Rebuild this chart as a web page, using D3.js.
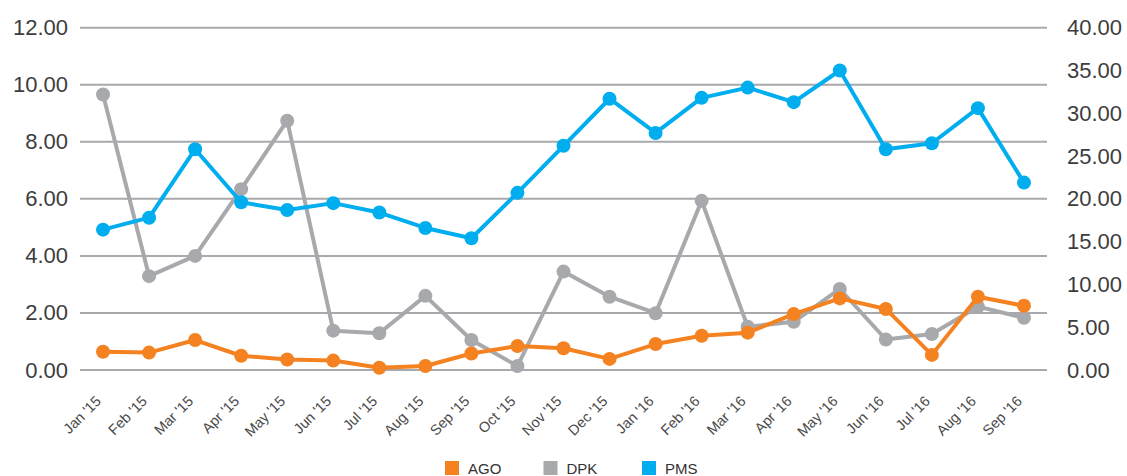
<!DOCTYPE html>
<html>
<head>
<meta charset="utf-8">
<script src="https://cdn.jsdelivr.net/npm/d3@7"></script>
<style>
  body { margin: 0; background: #fff; }
  text { font-family: "Liberation Sans", Arial, sans-serif; }
</style>
</head>
<body>
<div id="chart"></div>
<script>
// Months on the x axis
const months = ["Jan '15", "Feb '15", "Mar '15", "Apr '15", "May '15", "Jun '15", "Jul '15",
    "Aug '15", "Sep '15", "Oct '15", "Nov '15", "Dec '15", "Jan '16", "Feb '16", "Mar '16",
    "Apr '16", "May '16", "Jun '16", "Jul '16", "Aug '16", "Sep '16"];

// AGO and DPK read against the left axis
const ago = [0.64, 0.61, 1.05, 0.50, 0.37, 0.33, 0.08, 0.14, 0.58, 0.84, 0.76, 0.39, 0.91,
    1.20, 1.31, 1.96, 2.51, 2.14, 0.53, 2.57, 2.25];
const dpk = [9.66, 3.29, 4.00, 6.34, 8.74, 1.38, 1.29, 2.60, 1.05, 0.14, 3.45, 2.57, 1.99,
    5.93, 1.52, 1.69, 2.84, 1.07, 1.26, 2.22, 1.83];
// PMS read against the right axis
const pms = [16.4, 17.8, 25.8, 19.6, 18.7, 19.5, 18.4, 16.6, 15.4, 20.7, 26.2, 31.7, 27.7,
    31.8, 33.0, 31.3, 35.0, 25.8, 26.5, 30.6, 21.9];

const leftTicks = [0, 2, 4, 6, 8, 10, 12];
const rightTicks = [0, 5, 10, 15, 20, 25, 30, 35, 40];

const colours = { AGO: "#F58220", DPK: "#A7A9AC", PMS: "#00AEEF" };

const width = 1127, height = 476;
const plot = { left: 80, right: 1047, top: 27.7, bottom: 370 };

const svg = d3.select("#chart").append("svg")
    .attr("width", width)
    .attr("height", height);

const x = d3.scaleBand()
    .domain(months)
    .range([plot.left, plot.right]);

const yLeft = d3.scaleLinear().domain([0, 12]).range([plot.bottom, plot.top]);
const yRight = d3.scaleLinear().domain([0, 40]).range([plot.bottom, plot.top]);

// gridlines from the left axis
svg.append("g")
    .selectAll("line")
    .data(leftTicks)
    .enter()
    .append("line")
    .attr("x1", plot.left)
    .attr("x2", plot.right)
    .attr("y1", d => yLeft(d))
    .attr("y2", d => yLeft(d))
    .attr("stroke", "#A7A9AC")
    .attr("stroke-width", 2);

// left axis labels
const leftAxis = svg.append("g")
    .attr("transform", `translate(${plot.left - 12}, 0)`)
    .call(d3.axisLeft(yLeft).tickValues(leftTicks).tickFormat(d3.format(".2f")).tickSize(0).tickPadding(0));
leftAxis.select(".domain").remove();
leftAxis.selectAll("text")
    .style("font-size", "22px")
    .attr("fill", "#3d3d3d")
    .style("font-family", "'Liberation Sans', Arial, sans-serif");

// right axis labels
const rightAxis = svg.append("g")
    .attr("transform", `translate(${plot.right + 20}, 0)`)
    .call(d3.axisRight(yRight).tickValues(rightTicks).tickFormat(d3.format(".2f")).tickSize(0).tickPadding(0));
rightAxis.select(".domain").remove();
rightAxis.selectAll("text")
    .style("font-size", "22px")
    .attr("fill", "#3d3d3d")
    .style("font-family", "'Liberation Sans', Arial, sans-serif");

// month labels, rotated
const xAxis = svg.append("g")
    .attr("transform", `translate(0, ${plot.bottom})`)
    .call(d3.axisBottom(x).tickSize(0).tickPadding(0));
xAxis.select(".domain").remove();
xAxis.selectAll("text")
    .style("font-size", "14.5px")
    .style("font-family", "'Liberation Sans', Arial, sans-serif")
    .attr("fill", "#4a4a4a")
    .attr("y", 0)
    .attr("dy", 0)
    .attr("transform", "translate(-1, 32) rotate(-45)")
    .style("text-anchor", "end");

// series drawing
const series = [
    { name: "DPK", values: dpk, y: yLeft },
    { name: "AGO", values: ago, y: yLeft },
    { name: "PMS", values: pms, y: yRight }
];

series.forEach(s => {
    const line = d3.line()
        .x((d, i) => x(months[i]) + x.bandwidth() / 2)
        .y(d => s.y(d));

    svg.append("path")
        .datum(s.values)
        .attr("d", line)
        .attr("fill", "none")
        .attr("stroke", colours[s.name])
        .attr("stroke-width", 4)
        .attr("stroke-linejoin", "round");

    svg.append("g")
        .selectAll("circle")
        .data(s.values)
        .enter()
        .append("circle")
        .attr("cx", (d, i) => x(months[i]) + x.bandwidth() / 2)
        .attr("cy", d => s.y(d))
        .attr("r", 7)
        .attr("fill", colours[s.name]);
});

// legend
const legendItems = ["AGO", "DPK", "PMS"];
const legend = svg.append("g")
    .attr("transform", "translate(445, 461)");

legendItems.forEach((name, i) => {
    const item = legend.append("g")
        .attr("transform", `translate(${i * 98.5}, 0)`);
    item.append("rect")
        .attr("width", 14)
        .attr("height", 14)
        .attr("fill", colours[name]);
    item.append("text")
        .attr("x", 23)
        .attr("y", 12.5)
        .text(name)
        .style("font-size", "15px")
        .attr("fill", "#333");
});
</script>
</body>
</html>
